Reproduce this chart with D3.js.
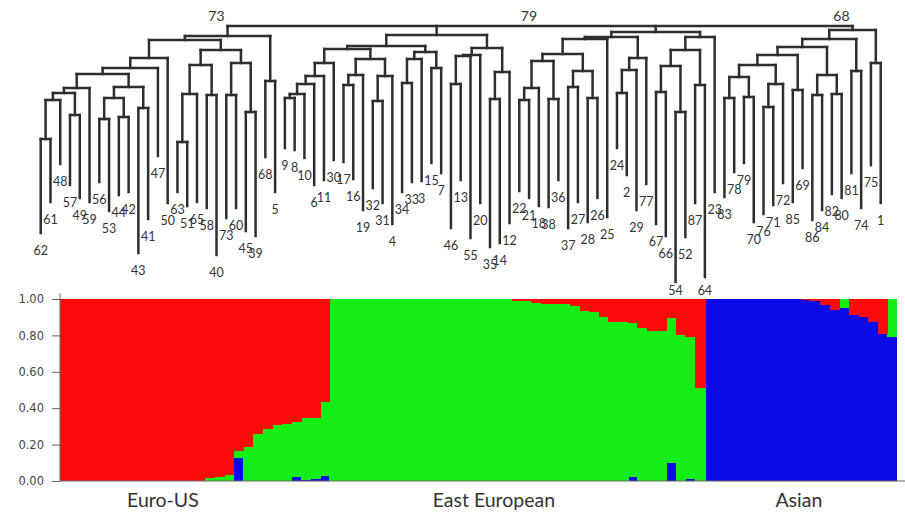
<!DOCTYPE html>
<html lang="en">
<head>
<meta charset="UTF-8">
<title>Dendrogram and STRUCTURE plot</title>
<script src="https://d3js.org/d3.v7.min.js"></script>
<style>
  body { margin: 0; background: #fff; }
  svg { display: block; }
  .branch { stroke: #2e2e2e; stroke-width: 2.5px; fill: none; stroke-linecap: square; }
  .leaf-label { font-family: Lato, sans-serif; font-size: 12.5px; fill: #333; text-anchor: middle; }
  .boot { font-family: Lato, sans-serif; font-size: 14px; fill: #333; text-anchor: end; }
  .axis text { font-family: "DejaVu Sans", sans-serif; font-size: 11.5px; fill: #444; }
  .axis line { stroke: #666; }
  .bars rect { shape-rendering: crispEdges; }
  .group-label { font-family: Lato, sans-serif; font-size: 19.5px; fill: #333; text-anchor: middle; }
</style>
</head>
<body>
<div id="chart"></div>
<script>
const width = 905, height = 513;

// tree clades in newick form; the number after ":" is the depth of the node below the root line
const euroUS = "(((((((((62:207,61:176):113,48:138):74,(57:159,49:172):89):67,59:176):62,(((56:156,53:185):93,(44:169,42:166):91):72,(43:227,41:193):82):61):48,47:130):42,50:177):32,((((63:166,51:180):116,65:176):68,(58:182,40:229):69):39,((73:192,60:182):69,(45:205,39:210):86):37):24):14,(68:131,5:166):55)73:10";
const eastEuropeA = "((((((((9:122,8:124):72,10:132):68,6:159):58,11:154):50,30:134):37,(((17:136,16:153):59,19:184):49,((32:162,31:177):75,4:198):50):33):23,(((34:166,33:156):57,3:155):33,(15:137,7:147):42):26):20,((((46:202,13:154):58,55:212):30,20:177):29,((35:221,14:217):73,12:197):46):22):9";
const eastEuropeB = "(((((((22:165,21:172):74,18:180):62,(38:181,36:154):73):35,((37:202,27:176):61,(28:196,26:172):72):45):28,25:191):13,(((24:122,2:149):67,29:184):44,77:158):32):11,((((67:198,66:210):66,(54:256,52:211):86):40,(87:177,64:251):59):24,23:166):11):6";
const asian = "(((((((83:171,78:146):72,(79:137,70:196):71):51,((76:188,71:179):81,72:157):58):39,(85:176,69:142):64):29,((86:194,84:184):69,(82:168,80:172):68):49):21,(81:147,74:182):45):13,(75:139,1:177):37)68:4";
const treeNewick = "(" + [euroUS, eastEuropeA, eastEuropeB, asian].join(",") + ")79:0";

// membership coefficients of the 87 individuals (bottom to top: blue, green, red)
const blueQ = [
  0,0,0,0,0,0,0,0,0,0,0,0,0,0,0,0,0,0,0.125,0,0,0,0,0,0.02,0.005,0.01,0.025,
  0,0,0,0,0,0,0,0,0,0,0,0,0,0,0,0,0,0,0,0,0,0,0,0,0,0,0,0,0,0,0,0.02,0,0,0,0.097,0,0.01,0,
  1,1,1,1,1,1,1,1,1,1,0.995,0.99,0.965,0.94,0.95,0.912,0.9,0.875,0.81,0.79
];
const greenQ = [
  0,0,0,0,0,0,0,0,0,0,0,0,0,0,0,0.015,0.024,0.033,0.041,0.188,0.258,0.286,0.308,0.313,0.306,0.339,0.338,0.411,
  1,1,1,1,1,1,1,1,1,1,1,1,1,1,1,1,1,1,1,0.99,0.99,0.98,0.975,0.975,0.97,0.963,0.934,0.93,0.903,0.875,0.875,0.85,0.839,0.826,0.822,0.8,0.802,0.783,0.51,
  0,0,0,0,0,0,0,0,0,0,0,0,0,0,0.05,0,0,0,0,0.21
];
const redQ = [
  1,1,1,1,1,1,1,1,1,1,1,1,1,1,1,0.985,0.976,0.967,0.834,0.812,0.742,0.714,0.692,0.687,0.674,0.656,0.652,0.564,
  0,0,0,0,0,0,0,0,0,0,0,0,0,0,0,0,0,0,0,0.01,0.01,0.02,0.025,0.025,0.03,0.037,0.066,0.07,0.097,0.125,0.125,0.13,0.161,0.174,0.178,0.103,0.198,0.207,0.49,
  0,0,0,0,0,0,0,0,0,0,0.005,0.01,0.035,0.06,0,0.088,0.1,0.125,0.19,0
];
const clusterColors = { blue: "#0a0ae6", green: "#14ee14", red: "#fe0a0a" };

const groupNames = ["Euro-US", "East European", "Asian"];
const groupLabelAt = [10.7, 45.1, 76.8];   // in individual index units
const yTicks = [0, 0.2, 0.4, 0.6, 0.8, 1];

// small newick reader
function parseNewick(s) {
  let i = 0;
  function node() {
    const n = {};
    if (s[i] === "(") {
      i++;
      n.children = [];
      do { n.children.push(node()); } while (s[i++] === ",");
    }
    let name = "";
    while (i < s.length && !":,();".includes(s[i])) name += s[i++];
    n.name = name;
    if (s[i] === ":") {
      i++;
      let num = "";
      while (i < s.length && !",();".includes(s[i])) num += s[i++];
      n.depth = +num;
    }
    return n;
  }
  return node();
}

const svg = d3.select("#chart").append("svg")
  .attr("width", width)
  .attr("height", height);

// ---------- dendrogram ----------
const root = d3.hierarchy(parseNewick(treeNewick));
const leafNames = root.leaves().map(d => d.data.name);

const xLeaf = d3.scalePoint().domain(leafNames).range([40.7, 880.7]);
const yDepth = d3.scaleLinear().domain([0, 256]).range([26, 282]);

root.eachAfter(n => {
  if (n.children) {
    n.x = (n.children[0].x + n.children[n.children.length - 1].x) / 2;
  } else {
    n.x = xLeaf(n.data.name);
  }
  n.y = yDepth(n.data.depth);
});

const tree = svg.append("g").attr("class", "tree");

// horizontal joins
tree.selectAll("line.h")
  .data(root.descendants().filter(d => d.children))
  .enter().append("line")
  .attr("class", "branch")
  .attr("x1", d => d.children[0].x)
  .attr("x2", d => d.children[d.children.length - 1].x)
  .attr("y1", d => d.y)
  .attr("y2", d => d.y);

// vertical branches
tree.selectAll("line.v")
  .data(root.descendants().filter(d => d.parent))
  .enter().append("line")
  .attr("class", "branch")
  .attr("x1", d => d.x)
  .attr("x2", d => d.x)
  .attr("y1", d => d.parent.y)
  .attr("y2", d => d.y);

tree.selectAll("text.leaf-label")
  .data(root.leaves())
  .enter().append("text")
  .attr("class", "leaf-label")
  .attr("x", d => d.x)
  .attr("y", d => Math.min(d.y + 22, 295))
  .text(d => d.data.name);

// bootstrap values
tree.selectAll("text.boot")
  .data(root.descendants().filter(d => d.children && d.data.name))
  .enter().append("text")
  .attr("class", "boot")
  .attr("x", d => d.x - 3)
  .attr("y", d => (d.parent ? d.parent.y : d.y) - 5)
  .text(d => d.data.name);

// ---------- structure bar plot ----------
const individuals = blueQ.map((b, i) => ({ blue: b, green: greenQ[i], red: redQ[i] }));

const xBar = d3.scaleBand().domain(d3.range(individuals.length)).range([60, 897]).padding(0);
const yQ = d3.scaleLinear().domain([0, 1]).range([481, 299]);

const series = d3.stack().keys(["blue", "green", "red"])(individuals);

const bars = svg.append("g").attr("class", "bars");
bars.selectAll("g")
  .data(series)
  .enter().append("g")
  .attr("fill", d => clusterColors[d.key])
  .selectAll("rect")
  .data(d => d)
  .enter().append("rect")
  .attr("x", (d, i) => xBar(i))
  .attr("width", (d, i) => i === individuals.length - 1 ? xBar.bandwidth() : xBar.bandwidth() + 1)
  .attr("y", d => yQ(d[1]))
  .attr("height", d => Math.max(0, yQ(d[0]) - yQ(d[1])));

const yAxis = svg.append("g")
  .attr("class", "axis")
  .attr("transform", "translate(60,0)")
  .call(d3.axisLeft(yQ).tickValues(yTicks).tickFormat(d3.format(".2f")).tickSize(8).tickPadding(8));
yAxis.select(".domain").remove();

svg.append("line")
  .attr("x1", 60).attr("x2", 60)
  .attr("y1", yQ(1) - 6).attr("y2", yQ(0))
  .attr("stroke", "#666");
svg.append("line")
  .attr("x1", 60).attr("x2", width)
  .attr("y1", yQ(0)).attr("y2", yQ(0))
  .attr("stroke", "#666");

svg.selectAll("text.group-label")
  .data(groupNames)
  .enter().append("text")
  .attr("class", "group-label")
  .attr("x", (d, i) => xBar(0) + groupLabelAt[i] * xBar.step())
  .attr("y", 507)
  .text(d => d);
</script>
</body>
</html>
